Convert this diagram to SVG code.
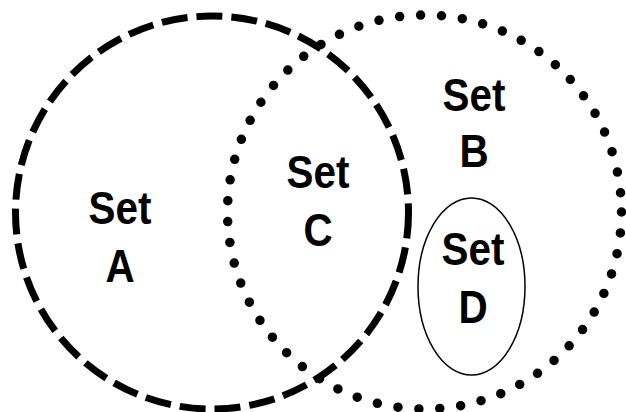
<svg xmlns="http://www.w3.org/2000/svg" width="626" height="412" viewBox="0 0 626 412">
  <style>
    .set-a { fill: none; stroke: #000; stroke-width: 7; stroke-dasharray: 26 9; }
    .set-b { fill: none; stroke: #000; stroke-width: 9.5; stroke-linecap: round; stroke-dasharray: 0 21; }
    .set-d { fill: #fff; stroke: #000; stroke-width: 1.5; }
    .label { font-family: "Liberation Sans", Arial, sans-serif; font-weight: bold; font-size: 47px; fill: #000; text-anchor: middle; }
  </style>
  <rect width="626" height="412" fill="#fff"/>

  <g id="set-b">
    <circle class="set-b" cx="424.5" cy="212" r="197"/>
    <g transform="translate(474 0) scale(0.86 1)">
      <text class="label" x="0" y="111">Set</text>
      <text class="label" x="0" y="167">B</text>
    </g>
  </g>

  <g id="set-a">
    <circle class="set-a" cx="212" cy="212.5" r="196.5"/>
    <g transform="translate(120 0) scale(0.86 1)">
      <text class="label" x="0" y="224">Set</text>
      <text class="label" x="0" y="282">A</text>
    </g>
  </g>

  <g id="set-c">
    <g transform="translate(318 0) scale(0.86 1)">
      <text class="label" x="0" y="188">Set</text>
      <text class="label" x="0" y="246">C</text>
    </g>
  </g>

  <g id="set-d">
    <ellipse class="set-d" cx="471.5" cy="286.5" rx="53.5" ry="88.5"/>
    <g transform="translate(473 0) scale(0.86 1)">
      <text class="label" x="0" y="265">Set</text>
      <text class="label" x="0" y="323">D</text>
    </g>
  </g>

  <g id="connectors"></g>
</svg>
